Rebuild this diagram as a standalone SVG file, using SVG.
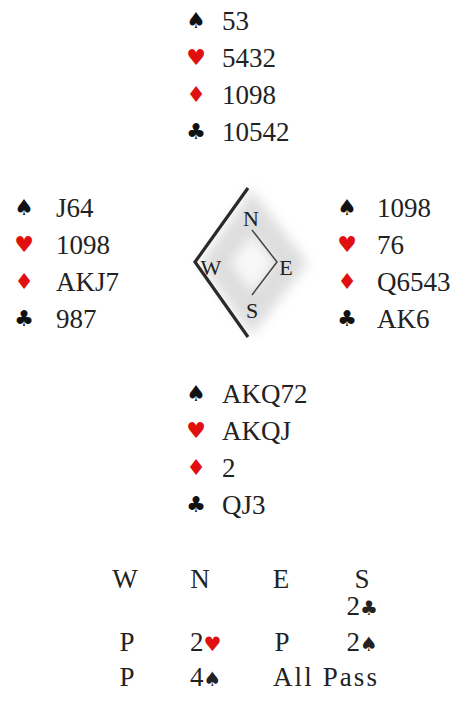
<svg xmlns="http://www.w3.org/2000/svg" width="465" height="706" viewBox="0 0 465 706">
<style>
text.bid{font-family:'Liberation Serif','Times New Roman',Times,serif;font-size:27px;fill:#222}
text.suit{font-family:'DejaVu Sans',sans-serif;font-size:22px;fill:#111;text-anchor:middle}
text.suit.red,.red{fill:#e01010}
.bsuit{font-family:'DejaVu Sans',sans-serif;font-size:20px}
text.cmp{font-family:'Liberation Serif','Times New Roman',Times,serif;font-size:22px;fill:#222;text-anchor:middle}
.mid{text-anchor:middle}
.end{text-anchor:end}
</style>
<defs>
<filter id="blur" x="-30%" y="-30%" width="160%" height="160%"><feGaussianBlur stdDeviation="6"/></filter>
</defs>
<rect width="465" height="706" fill="#fff"/>
<g id="north">
<text class="suit" x="196" y="28">♠</text><text class="bid" x="222" y="30">53</text>
<text class="suit red" x="196" y="65">♥</text><text class="bid" x="222" y="67">5432</text>
<text class="suit red" x="196" y="102">♦</text><text class="bid" x="222" y="104">1098</text>
<text class="suit" x="196" y="139">♣</text><text class="bid" x="222" y="141">10542</text>
</g>
<g id="west">
<text class="suit" x="24" y="215">♠</text><text class="bid" x="56" y="217">J64</text>
<text class="suit red" x="24" y="252">♥</text><text class="bid" x="56" y="254">1098</text>
<text class="suit red" x="24" y="289">♦</text><text class="bid" x="56" y="291">AKJ7</text>
<text class="suit" x="24" y="326">♣</text><text class="bid" x="56" y="328">987</text>
</g>
<g id="east">
<text class="suit" x="347" y="215">♠</text><text class="bid" x="377" y="217">1098</text>
<text class="suit red" x="347" y="252">♥</text><text class="bid" x="377" y="254">76</text>
<text class="suit red" x="347" y="289">♦</text><text class="bid" x="377" y="291">Q6543</text>
<text class="suit" x="347" y="326">♣</text><text class="bid" x="377" y="328">AK6</text>
</g>
<g id="south">
<text class="suit" x="196" y="401">♠</text><text class="bid" x="222" y="403">AKQ72</text>
<text class="suit red" x="196" y="438">♥</text><text class="bid" x="222" y="440">AKQJ</text>
<text class="suit red" x="196" y="475">♦</text><text class="bid" x="222" y="477">2</text>
<text class="suit" x="196" y="512">♣</text><text class="bid" x="222" y="514">QJ3</text>
</g>
<g id="compass">
<polygon points="252,190 308,263 252,336 200,263" fill="#d0d0d0" opacity="0.7" filter="url(#blur)"/>
<polygon points="252,234 274,263 252,292 230,263" fill="#fff" opacity="0.8" filter="url(#blur)"/>
<polyline points="248,188 195,262 248,337" fill="none" stroke="#2a2a2a" stroke-width="3.2"/>
<polyline points="252,230 277,262 252,295" fill="none" stroke="#444" stroke-width="1.5"/>
<text class="cmp" x="251" y="226">N</text>
<text class="cmp" x="211" y="275">W</text>
<text class="cmp" x="286" y="275">E</text>
<text class="cmp" x="252" y="318">S</text>
</g>
<g id="auction">
<text class="bid mid" x="125" y="588">W</text>
<text class="bid mid" x="200" y="588">N</text>
<text class="bid mid" x="281" y="588">E</text>
<text class="bid mid" x="362" y="588">S</text>
<text class="bid end" x="378" y="615">2<tspan class="bsuit">♣</tspan></text>
<text class="bid mid" x="127" y="651">P</text>
<text class="bid" x="190" y="651">2<tspan class="bsuit red">♥</tspan></text>
<text class="bid mid" x="282" y="651">P</text>
<text class="bid end" x="378" y="651">2<tspan class="bsuit">♠</tspan></text>
<text class="bid mid" x="127" y="686">P</text>
<text class="bid" x="190" y="686">4<tspan class="bsuit">♠</tspan></text>
<text class="bid" x="273" y="686" textLength="104" lengthAdjust="spacing">All Pass</text>
</g>
</svg>
